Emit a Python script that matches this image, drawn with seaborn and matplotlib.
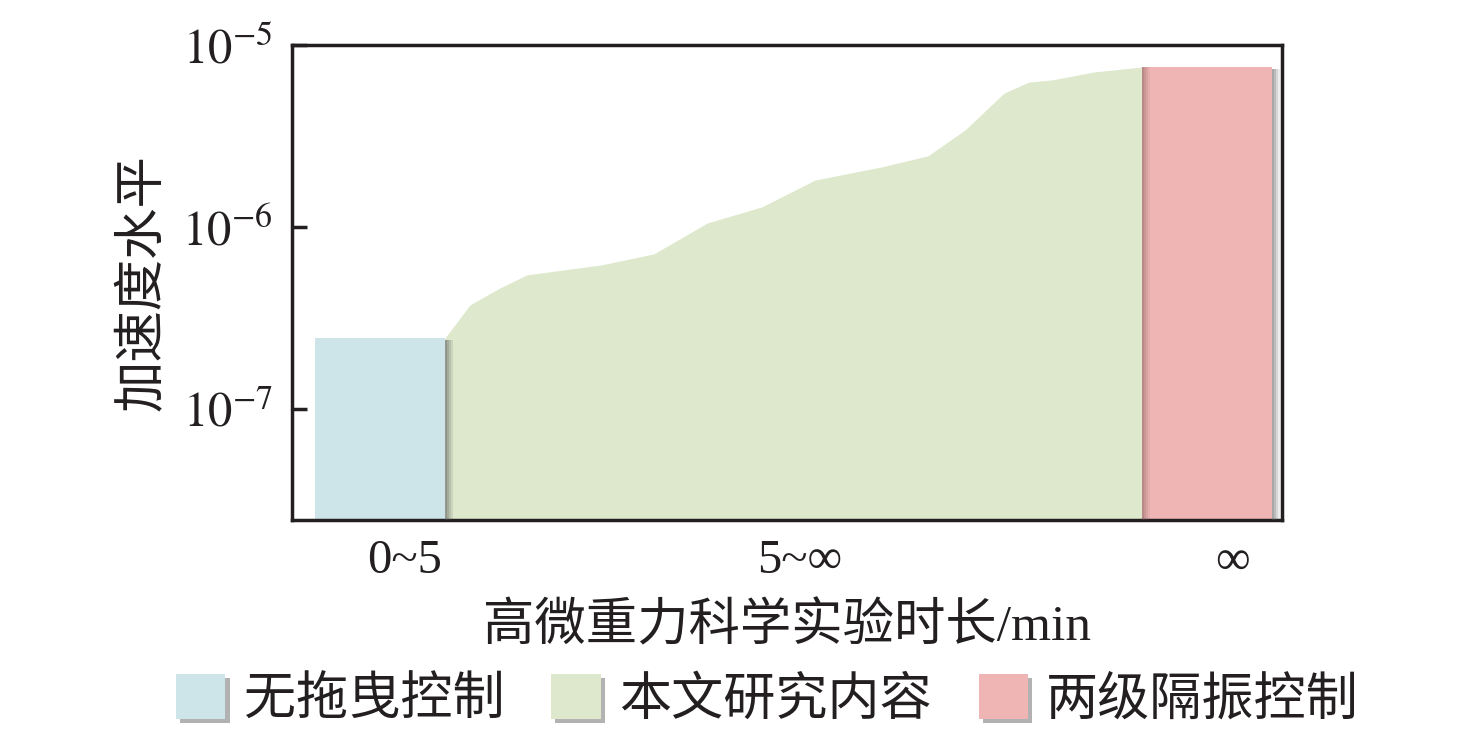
import numpy as np
import matplotlib
matplotlib.use("Agg")
import matplotlib.pyplot as plt
import matplotlib.patheffects as pe
from matplotlib.patches import Patch
import seaborn as sns

# x in arbitrary "duration" units along the axis (0..99)
x_lim = (0, 99)
y_min, y_max = 2.45e-8, 1.0e-5

blue_x = [2.3, 15.3]
blue_level = 2.45e-7
red_x = [85.0, 98.0]
red_level = 7.57e-6

green_x = [15.3, 17.8, 20.8, 23.5, 30.9, 36.2, 41.5, 47.0, 52.3, 59.0, 63.6,
           67.3, 71.2, 73.7, 76.0, 80.2, 85.0]
green_y = [2.45e-7, 3.73e-7, 4.62e-7, 5.45e-7, 6.18e-7, 7.11e-7, 1.05e-6,
           1.29e-6, 1.81e-6, 2.14e-6, 2.46e-6, 3.41e-6, 5.44e-6, 6.26e-6,
           6.43e-6, 7.11e-6, 7.57e-6]

tick_pos = [11.3, 50.8, 94.0]
tick_labels = ['0~5', '5~∞', '∞']
legend_labels = ['无拖曳控制', '本文研究内容', '两级隔振控制']
colors = ['#cde4e9', '#dde8cc', '#efb5b5']

sns.set_theme(style='white')
plt.rcParams['font.family'] = ['Liberation Serif', 'Noto Sans CJK SC', 'DejaVu Sans']
plt.rcParams['mathtext.fontset'] = 'stix'

fig = plt.figure(figsize=(14.76, 7.33), dpi=100)
ax = fig.add_axes([0.1978, 0.2906, 0.6708, 0.648])
ax.set_yscale('log')


def soft_shadow(x0, top, color, alphas, step=0.2, z=3):
    # gradient band made of thin strips, fading away from x0
    for i, a in enumerate(alphas):
        ax.fill_between([x0 + i * step, x0 + (i + 1) * step], y_min, top,
                        color=color, alpha=a, lw=0, zorder=z)


# green area
sns.lineplot(x=green_x, y=green_y, ax=ax, color=colors[1], lw=0)
ax.fill_between(green_x, y_min, green_y, color=colors[1], lw=0, zorder=1)

# blue block
ax.fill_between(blue_x, y_min, blue_level, color=colors[0], lw=0, zorder=2)
soft_shadow(blue_x[1], blue_level * 0.97, '#505050', [0.55, 0.4, 0.25, 0.12])

# red block
ax.fill_between(red_x, y_min, red_level, color=colors[2], lw=0, zorder=2)
soft_shadow(red_x[0], red_level, '#6a4848', [0.4, 0.28, 0.16, 0.07])
soft_shadow(red_x[1], red_level * 0.97, '#505050', [0.5, 0.38, 0.24, 0.1])

ax.set_xlim(*x_lim)
ax.set_ylim(y_min, y_max)
ax.set_xticks(tick_pos)
ax.set_xticklabels(tick_labels)
ax.set_yticks([1e-7, 1e-6, 1e-5])
ax.set_yticklabels([r'$10^{-7}$', r'$10^{-6}$', r'$10^{-5}$'])
ax.minorticks_off()
ax.tick_params(axis='x', length=0, labelsize=35, pad=14, colors='#231f20')
ax.tick_params(axis='y', direction='in', length=11, width=2.5, labelsize=35,
               pad=14, colors='#231f20', left=True)
for s in ax.spines.values():
    s.set_linewidth(2.5)
    s.set_color('#231f20')

ax.set_xlabel('高微重力科学实验时长/min', fontsize=37, color='#231f20', labelpad=14)
ax.set_ylabel('加速度水平', fontsize=37, color='#231f20', labelpad=10)

handles = [Patch(facecolor=c, edgecolor='none',
                 path_effects=[pe.SimplePatchShadow(offset=(3, -3), shadow_rgbFace='#555555', alpha=0.45),
                               pe.Normal()])
           for c in colors]
fig.legend(handles, legend_labels, loc='center', bbox_to_anchor=(0.52, 0.045), ncol=3,
           frameon=False, fontsize=37.5, handlelength=0.95, handleheight=0.95,
           handletextpad=0.35, columnspacing=0.9, labelcolor='#231f20')

fig.savefig('out.png', dpi=100)
